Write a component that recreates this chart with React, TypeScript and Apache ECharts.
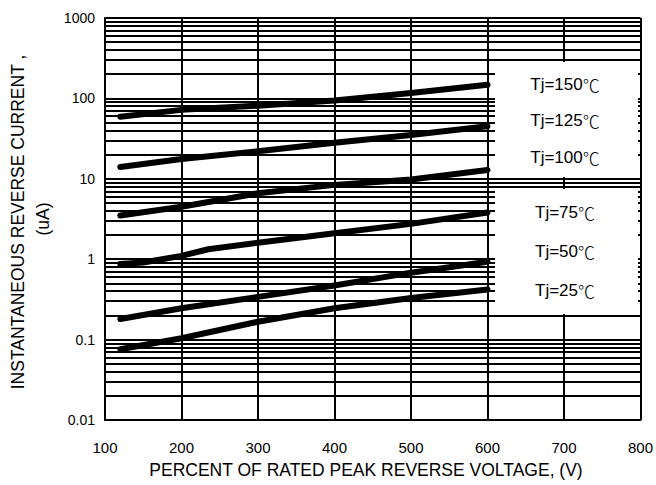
import React, { useEffect, useRef } from "react";
import * as echarts from "echarts";

// Data
const xMain = [120, 200, 300, 400, 500, 600];
const tj150 = [59, 72, 81, 94, 117, 148];
const tj125 = [14, 17.6, 22, 28, 35, 45];
const tj100 = [3.5, 4.5, 6.6, 8.4, 9.8, 12.9];
const xTj75 = [120, 150, 200, 235, 300, 400, 500, 600];
const tj75 = [0.87, 0.91, 1.1, 1.33, 1.6, 2.1, 2.75, 3.8];
const tj50 = [0.18, 0.245, 0.34, 0.47, 0.68, 0.93];
const tj25 = [0.076, 0.104, 0.167, 0.245, 0.33, 0.42];

const seriesTemps = ["150", "125", "100", "75", "50", "25"];
const seriesNames = seriesTemps.map((t) => `Tj=${t}℃`);
const yTickLabels = ["0.01", "0.1", "1", "10", "100", "1000"];
const decades = [0.01, 0.1, 1, 10, 100];
const minorMultipliers = [2, 3, 4, 5, 6, 7, 8, 9];

const xTitle = "PERCENT OF RATED PEAK REVERSE VOLTAGE, (V)";
const yTitle1 = "INSTANTANEOUS REVERSE CURRENT ,";
const yTitle2 = "(uA)";

const FONT = "'Liberation Sans', Arial, 'Noto Sans CJK SC', sans-serif";

export default function App() {
  const ref = useRef<HTMLDivElement>(null);

  useEffect(() => {
    if (!ref.current) return;
    const chart = echarts.init(ref.current, undefined, { renderer: "svg" });

    const pairs = (xs: number[], ys: number[]) => xs.map((x, i) => [x, ys[i]]);
    const curves = [
      pairs(xMain, tj150),
      pairs(xMain, tj125),
      pairs(xMain, tj100),
      pairs(xTj75, tj75),
      pairs(xMain, tj50),
      pairs(xMain, tj25),
    ];

    const minorValues: number[] = [];
    decades.forEach((d) => minorMultipliers.forEach((m) => minorValues.push(+(d * m).toPrecision(6))));

    const labelY = [84.5, 120, 157.5, 212.5, 251, 290];

    const option: any = {
      animation: false,
      backgroundColor: "#fff",
      textStyle: { fontFamily: FONT },
      grid: { left: 105, right: 14, top: 18, bottom: 65, containLabel: false },
      xAxis: {
        type: "value",
        min: 100,
        max: 800,
        interval: 100,
        axisLine: { show: true, lineStyle: { color: "#000", width: 2 } },
        axisTick: { show: false },
        axisLabel: { color: "#000", fontSize: 15, margin: 20, fontFamily: FONT },
        splitLine: { show: true, lineStyle: { color: "#000", width: 2 } },
      },
      yAxis: {
        type: "log",
        logBase: 10,
        min: 0.01,
        max: 1000,
        axisLine: { show: true, lineStyle: { color: "#000", width: 2 } },
        axisTick: { show: false },
        axisLabel: {
          color: "#000",
          fontSize: 14,
          margin: 10,
          fontFamily: FONT,
          formatter: (v: number) => {
            const e = Math.round(Math.log10(v));
            return yTickLabels[e + 2] ?? "";
          },
        },
        splitLine: { show: true, lineStyle: { color: "#000", width: 2 } },
      },
      series: [
        {
          type: "line",
          name: "grid",
          data: [],
          silent: true,
          z: 1,
          markLine: {
            silent: true,
            symbol: ["none", "none"],
            label: { show: false },
            lineStyle: { color: "#000", width: 1.8, type: "solid" },
            emphasis: { disabled: true },
            data: minorValues.map((v) => ({ yAxis: v })),
          },
        },
        ...curves.map((d, i) => ({
          type: "line",
          name: seriesNames[i],
          data: d,
          showSymbol: false,
          symbol: "none",
          smooth: false,
          z: 5,
          lineStyle: { color: "#000", width: 6, cap: "round", join: "round" },
        })),
      ],
      graphic: [
        { type: "rect", z: 50, shape: { x: 495, y: 62, width: 143, height: 115 }, style: { fill: "#fff" } },
        { type: "rect", z: 50, shape: { x: 495, y: 189, width: 143, height: 125 }, style: { fill: "#fff" } },
        ...seriesTemps.map((t, i) => ({
          type: "text",
          z: 60,
          x: 565,
          y: labelY[i],
          style: {
            text: `{a|Tj=${t}}{b|℃}`,
            fill: "#000",
            fontSize: 17,
            fontFamily: FONT,
            align: "center",
            verticalAlign: "middle",
            rich: {
              a: { fontSize: 17, fontFamily: FONT, fill: "#000" },
              b: { fontSize: 17, fontFamily: "'Noto Sans CJK SC', sans-serif", fill: "#000", fontWeight: 300 },
            },
          },
        })),
        {
          type: "text",
          z: 60,
          x: 366,
          y: 470,
          style: { text: xTitle, fill: "#000", fontSize: 17.5, fontFamily: FONT, align: "center", verticalAlign: "middle" },
        },
        {
          type: "text",
          z: 60,
          x: 18,
          y: 222,
          rotation: Math.PI / 2,
          style: { text: yTitle1, fill: "#000", fontSize: 17.5, fontFamily: FONT, align: "center", verticalAlign: "middle" },
        },
        {
          type: "text",
          z: 60,
          x: 43,
          y: 219,
          rotation: Math.PI / 2,
          style: { text: yTitle2, fill: "#000", fontSize: 17.5, fontFamily: FONT, align: "center", verticalAlign: "middle" },
        },
      ],
    };

    chart.setOption(option);
    return () => chart.dispose();
  }, []);

  return <div ref={ref} style={{ width: 656, height: 485, position: "absolute", left: 0, top: 0 }} />;
}
